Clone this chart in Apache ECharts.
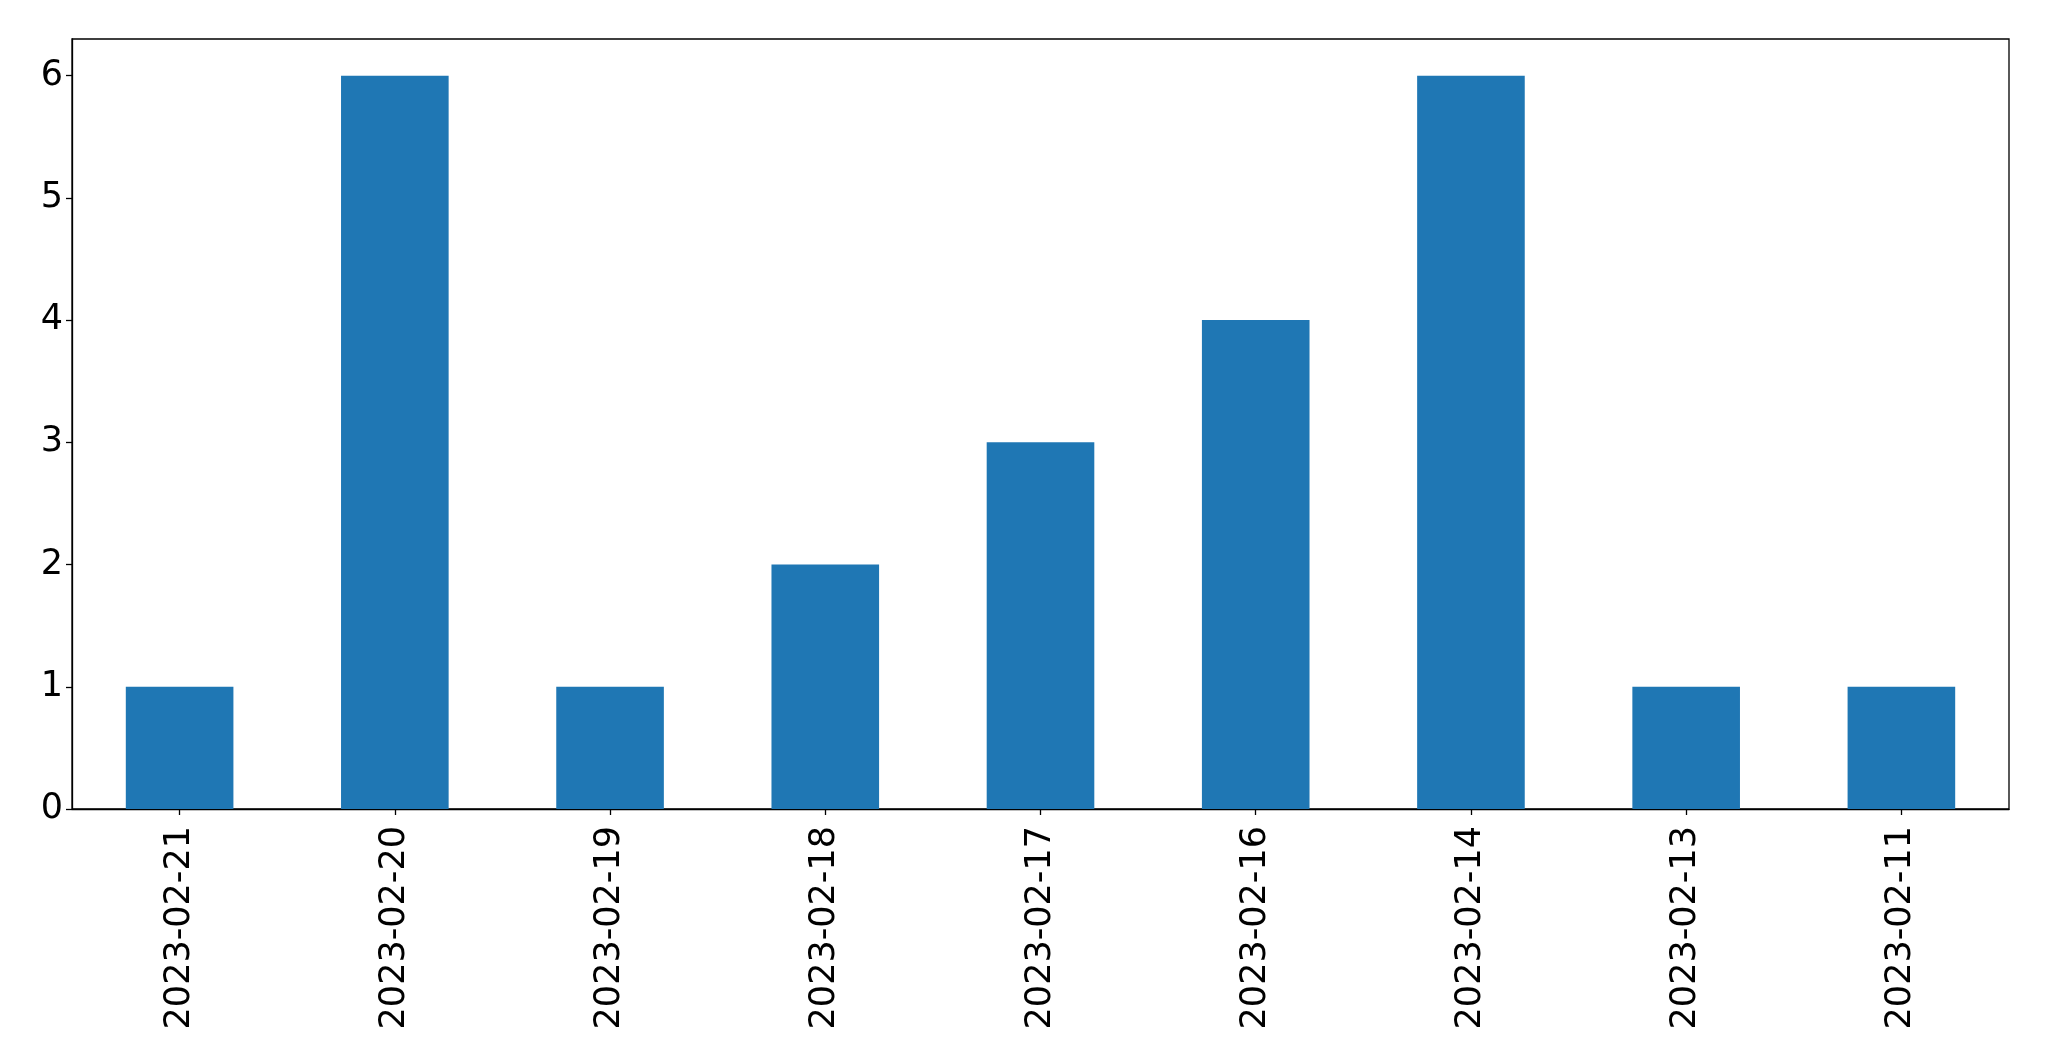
<!DOCTYPE html>
<html>
<head>
<meta charset="utf-8">
<script src="https://cdn.jsdelivr.net/npm/echarts@6/dist/echarts.min.js"></script>
<style>
  html, body { margin: 0; padding: 0; background: #fff; }
  #chart { width: 2049px; height: 1061px; }
</style>
</head>
<body>
<div id="chart"></div>
<script>
const dates = ['2023-02-21', '2023-02-20', '2023-02-19', '2023-02-18', '2023-02-17',
    '2023-02-16', '2023-02-14', '2023-02-13', '2023-02-11'];
const counts = [1, 6, 1, 2, 3, 4, 6, 1, 1];
const yMin = 0;
const yMax = 6.3;
const yStep = 1;

const chart = echarts.init(document.getElementById('chart'));
const font = 'DejaVu Sans';

chart.setOption({
    animation: false,
    grid: {
        left: 72,
        right: 40,
        top: 39,
        bottom: 252,
        show: true,
        borderColor: '#000',
        borderWidth: 1.3,
        containLabel: false
    },
    xAxis: {
        type: 'category',
        data: dates,
        axisLine: { show: true, lineStyle: { color: '#000', width: 1.3 } },
        axisTick: { show: true, alignWithLabel: true, length: 6, lineStyle: { color: '#000', width: 1.3 } },
        axisLabel: {
            rotate: 90,
            interval: 0,
            margin: 17,
            color: '#000',
            fontFamily: font,
            fontSize: 35
        },
        splitLine: { show: false }
    },
    yAxis: {
        type: 'value',
        min: yMin,
        max: yMax,
        interval: yStep,
        axisLine: { show: true, lineStyle: { color: '#000', width: 1.3 } },
        axisTick: { show: true, length: 6, lineStyle: { color: '#000', width: 1.3 } },
        axisLabel: {
            margin: 9,
            padding: [6, 0, 0, 0],
            color: '#000',
            fontFamily: font,
            fontSize: 35,
            showMaxLabel: false,
            formatter: v => (Number.isInteger(v) ? String(v) : '')
        },
        splitLine: { show: false }
    },
    series: [{
        type: 'bar',
        data: counts,
        barCategoryGap: '50%',
        itemStyle: { color: '#1f77b4' }
    }]
});
</script>
</body>
</html>
